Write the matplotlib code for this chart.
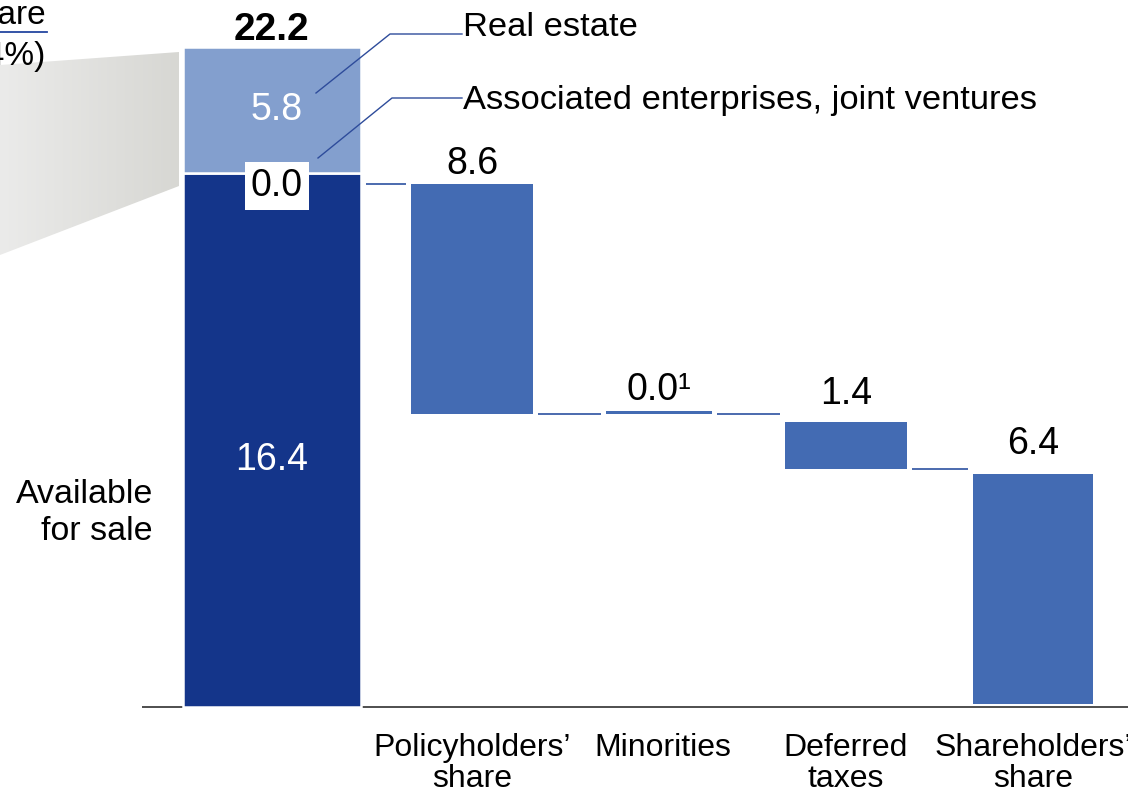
import numpy as np
import matplotlib.pyplot as plt
from matplotlib.colors import LinearSegmentedColormap
from matplotlib.patches import Polygon

plt.rcParams['font.family'] = ['Liberation Sans', 'DejaVu Sans']

# first column: available for sale, with real estate and associates stacked on top
afs_value = 16.4
real_estate = 5.8
assoc_jv = 0.0
total_value = 22.2

# how the 16.4 splits up
categories = ["Policyholders’\nshare", "Minorities", "Deferred\ntaxes", "Shareholders’\nshare"]
split_values = [8.6, 0.0, 1.4, 6.4]
split_notes = ["", "¹", "", ""]

# the slide is not to scale, so bar extents are read off the picture
# (in units of the 16.4 bar)
drawn_top = [16.05, 9.08, 8.75, 7.15]
drawn_bottom = [9.0, 9.0, 7.3, 0.1]
real_estate_drawn_top = 20.27

dark = '#14358A'
light = '#839FCE'
mid = '#436BB3'
line_blue = '#2E4C9B'

fig = plt.figure(figsize=(11.28, 7.92), dpi=100)
ax = fig.add_axes([0, 0, 1, 1])
ax.set_xlim(-1.524, 4.508)
ax.set_ylim(-2.61, 21.71)
ax.axis('off')

xpos = np.arange(5, dtype=float)
xpos[0] -= 0.07
widths = [0.95, 0.65, 0.57, 0.65, 0.64]

# baseline
ax.hlines(0, -0.765, 4.6, color='#404040', lw=1.3, zorder=1)

# first column
ax.bar(xpos[0], afs_value, width=widths[0], color=dark, edgecolor='white', lw=1.8, zorder=2)
ax.bar(xpos[0], real_estate_drawn_top - afs_value, bottom=afs_value, width=widths[0],
       color=light, edgecolor='white', lw=1.8, zorder=2)

ax.annotate(f"{total_value:.1f}", (xpos[0], real_estate_drawn_top), xytext=(0, 12),
            textcoords='offset points', ha='center', va='center', fontsize=28, fontweight='bold')
ax.annotate(f"{real_estate:.1f}", (xpos[0], (afs_value + real_estate_drawn_top) / 2), xytext=(3.5, 0),
            textcoords='offset points', ha='center', va='center', fontsize=27, color='white')
ax.annotate(f"{assoc_jv:.1f}", (xpos[0], afs_value), xytext=(3.5, -9.5),
            textcoords='offset points', ha='center', va='center', fontsize=27, color='black',
            bbox=dict(boxstyle='square,pad=0.16', fc='white', ec='none'), zorder=5)
ax.annotate(f"{afs_value:.1f}", (xpos[0], afs_value / 2), xytext=(0, -14.5),
            textcoords='offset points', ha='center', va='center', fontsize=27, color='white')

# breakdown bars
label_offsets = [14.5, 15.5, 20.5, 22]
for i in range(4):
    x = xpos[i + 1]
    ax.bar(x, drawn_top[i] - drawn_bottom[i], bottom=drawn_bottom[i], width=widths[i + 1],
           color=mid, edgecolor='none', zorder=2)
    ax.annotate(f"{split_values[i]:.1f}{split_notes[i]}", (x, drawn_top[i]),
                xytext=(0, label_offsets[i]), textcoords='offset points',
                ha='center', va='center', fontsize=27)
    ax.annotate(categories[i], (x, 0), xytext=(3 if i == 1 else 0, -19),
                textcoords='offset points', ha='center', va='top', fontsize=23,
                linespacing=1.04)

# connectors
levels = [drawn_top[0]] + drawn_bottom[:3]
gap = 0.027
for i in range(4):
    x0 = xpos[i] + widths[i] / 2 + gap
    x1 = xpos[i + 1] - widths[i + 1] / 2 - gap
    ax.hlines(levels[i], x0, x1, color='#3D5FA8', lw=1.3, zorder=1)

# decorations in pixel space
deco = fig.add_axes([0, 0, 1, 1], zorder=3)
deco.set_xlim(0, 1128)
deco.set_ylim(792, 0)
deco.axis('off')
deco.patch.set_alpha(0)

wedge = Polygon([(0, 65), (179, 52), (179, 186), (0, 255)], closed=True, fc='none', ec='none')
deco.add_patch(wedge)
cmap = LinearSegmentedColormap.from_list('g', ['#EBEBEA', '#D7D7D3'])
im = deco.imshow(np.linspace(0, 1, 256).reshape(1, -1), cmap=cmap, extent=[0, 179, 255, 52],
                 aspect='auto', zorder=1)
im.set_clip_path(wedge)
deco.set_xlim(0, 1128)
deco.set_ylim(792, 0)

deco.text(46, 15, "AfS share", ha='right', va='center', fontsize=24)
deco.plot([0, 47], [32, 32], color='#2446A0', lw=1.3)
deco.text(46, 57, "(74%)", ha='right', va='center', fontsize=24)

deco.text(153, 513, "Available\nfor sale", ha='right', va='center', fontsize=24.5, linespacing=1.27)

deco.plot([316, 390, 462], [93, 34, 34], color=line_blue, lw=1)
deco.plot([318, 392, 462], [158, 98, 98], color=line_blue, lw=1)
deco.text(463, 28, "Real estate", ha='left', va='center', fontsize=24.8)
deco.text(463, 100, "Associated enterprises, joint ventures", ha='left', va='center', fontsize=24.8)

fig.savefig('out.png', dpi=100)
